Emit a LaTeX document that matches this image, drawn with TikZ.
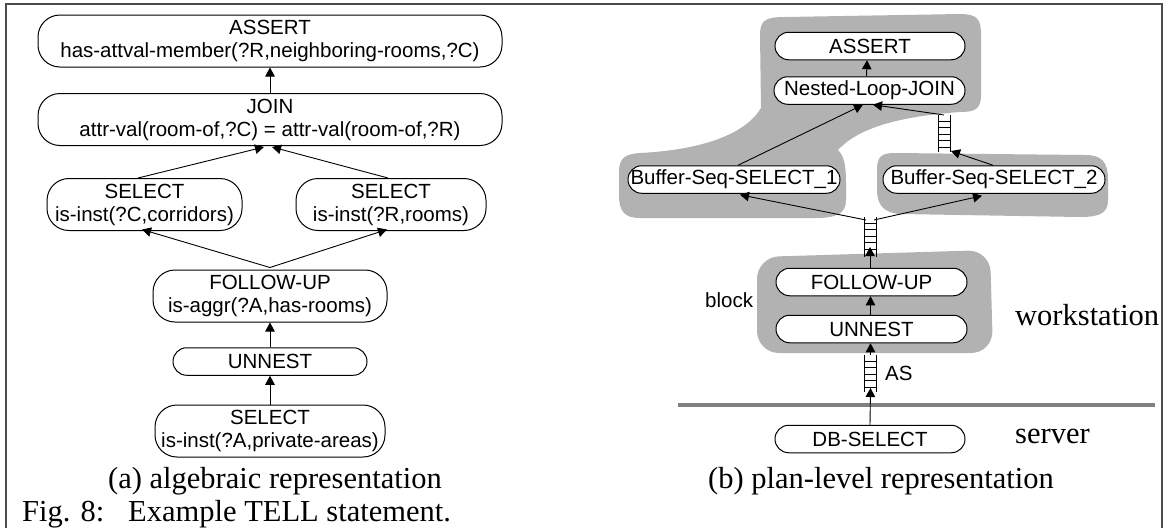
\documentclass[tikz,border=0pt]{standalone}
\usepackage{fontspec}
\setmainfont{Liberation Serif}
\setsansfont{Liberation Sans}
\usetikzlibrary{arrows.meta}
\definecolor{blobgray}{gray}{0.7}
\definecolor{framegray}{gray}{0.3}
\definecolor{tiergray}{gray}{0.5}

\begin{document}
\begin{tikzpicture}[x=1pt,y=-1pt,
  opbox/.style={draw=black, line width=1pt, fill=white, inner sep=0pt},
  tall/.style={opbox, minimum height=52pt, rounded corners=22pt},
  flat/.style={opbox, minimum height=27.5pt, rounded corners=13.7pt},
  lbl/.style={font=\sffamily\fontsize{20.5}{23}\selectfont, align=center, inner sep=0pt},
  note/.style={font=\sffamily\fontsize{20.5}{23}\selectfont, anchor=base west, inner sep=0pt},
  arr/.style={-{Triangle[length=9pt,width=9.5pt]}, line width=0.9pt},
  blob/.style={fill=blobgray},
  captxt/.style={font=\fontsize{30.5}{34}\selectfont, anchor=base west, inner sep=0pt},
  rail/.style={line width=0.9pt}
]
\useasboundingbox (0,0) rectangle (1169,528);

% frame
\draw[line width=1.5pt, framegray] (6,528) -- (6,4) -- (1162,4) -- (1162,528);

% ---------- (a) algebraic representation ----------
\node[tall, minimum width=464pt] (assertA) at (270,41) {};
\node[lbl] at (assertA) {ASSERT\\has-attval-member(?R,neighboring-rooms,?C)};
\node[tall, minimum width=464pt] (joinA) at (270,119.5) {};
\node[lbl] at (joinA) {JOIN\\attr-val(room-of,?C) = attr-val(room-of,?R)};
\node[tall, minimum width=195pt] (selC) at (144.5,204.5) {};
\node[lbl] at (selC) {SELECT\\is-inst(?C,corridors)};
\node[tall, minimum width=190pt] (selR) at (391,204.5) {};
\node[lbl] at (selR) {SELECT\\is-inst(?R,rooms)};
\node[tall, minimum width=234pt] (follA) at (270,296) {};
\node[lbl] at (follA) {FOLLOW-UP\\is-aggr(?A,has-rooms)};
\node[flat, minimum width=194pt] (unnA) at (270,361.5) {};
\node[lbl] at (unnA) {UNNEST};
\node[tall, minimum width=230pt] (selP) at (270,431) {};
\node[lbl] at (selP) {SELECT\\is-inst(?A,private-areas)};

\draw[arr] (joinA.north) -- (assertA.south);
\draw[arr] ([xshift=-6.5pt]selC.north) -- ([xshift=-6pt,yshift=-1pt]joinA.south);
\draw[arr] ([xshift=-3pt]selR.north) -- ([xshift=2pt,yshift=-1pt]joinA.south);
\draw[arr] ([yshift=2pt]follA.north) -- ([xshift=-2.5pt,yshift=1.5pt]selC.south);
\draw[arr] ([yshift=2pt]follA.north) -- ([xshift=-4pt,yshift=1.5pt]selR.south);
\draw[arr] (unnA.north) -- (follA.south);
\draw[arr] (selP.north) -- (unnA.south);

\node[captxt] (capA) at (108,488) {(a) algebraic representation};
\node[captxt] (figno) at (22,521) {Fig. 8:};
\node[captxt] (figtxt) at (128,521) {Example TELL statement.};

% ---------- (b) plan-level representation ----------
% shaded groups: join group with its first input, second input, and the block
\fill[blob] (760,35) .. controls (760,20) and (766,17) .. (785,17)
  -- (960,14) .. controls (978,14) and (981,20) .. (981,35)
  -- (981,95) .. controls (981,109) and (975,112) .. (960,112)
  .. controls (905,116) and (860,126) .. (838,150)
  .. controls (845,157) and (846,168) .. (846,185)
  -- (846,200) .. controls (846,214) and (836,218) .. (815,218)
  -- (640,218) .. controls (625,218) and (619,212) .. (619,195)
  -- (619,172) .. controls (619,158) and (625,154) .. (640,153)
  .. controls (700,150) and (745,135) .. (761,108) -- cycle;
\fill[blob] (877,170) .. controls (877,156) and (882,153) .. (895,153)
  -- (1085,155) .. controls (1102,155) and (1108,162) .. (1108,180)
  -- (1108,200) .. controls (1108,213) and (1100,217) .. (1080,217)
  -- (900,214) .. controls (884,213) and (877,205) .. (877,190) -- cycle;
\fill[blob, rounded corners=22pt] (757,257) -- (990,250) -- (993,353) -- (757,353) -- cycle;

% workstation / server boundary
\draw[line width=4pt, tiergray] (678,405) -- (1155,405);

\node[flat, minimum width=190pt] (assertB) at (870,46) {};
\node[lbl] at (assertB) {ASSERT};
\node[flat, minimum width=191pt] (nlj) at (869.5,90.5) {};
\node[lbl] at (nlj) {Nested-Loop-JOIN};
\node[flat, minimum width=212pt] (bss1) at (734,179.5) {};
\node[lbl] at (bss1) {Buffer-Seq-SELECT\_1};
\node[flat, minimum width=222pt] (bss2) at (994,179.5) {};
\node[lbl] at (bss2) {Buffer-Seq-SELECT\_2};
\node[flat, minimum width=191pt] (follB) at (871.5,282) {};
\node[lbl] at (follB) {FOLLOW-UP};
\node[flat, minimum width=191pt] (unnB) at (871.5,329) {};
\node[lbl] at (unnB) {UNNEST};
\node[flat, minimum width=190pt] (dbsel) at (870,439) {};
\node[lbl] at (dbsel) {DB-SELECT};

% buffer queues
\foreach \lx/\ty/\by in {938/115/152, 864/217/257, 864/355/392}{
  \draw[rail] (\lx,\ty) -- (\lx,\by) (\lx+12.5,\ty) -- (\lx+12.5,\by);
  \foreach \k in {0,...,4}
    \draw[rail] (\lx,\ty+6+6.5*\k) -- (\lx+12.5,\ty+6+6.5*\k);
}
\coordinate (q1t) at (944,115);
\coordinate (q1b) at (951,151);
\coordinate (q2l) at (866,220);
\coordinate (q2r) at (874,220);
\coordinate (q2b) at (870,247);
\coordinate (q3t) at (870.5,355);
\coordinate (q3b) at (870.5,388);

\draw[arr] ([xshift=-3pt]nlj.north) -- ([xshift=-3pt]assertB.south);
\draw[arr] ([xshift=4pt]bss1.north) -- ([xshift=-6.5pt]nlj.south);
\draw[arr] (q1t) -- ([xshift=3.5pt]nlj.south);
\draw[arr] ([xshift=-1pt]bss2.north) -- (q1b);
\draw[arr] (q2l) -- ([xshift=6pt,yshift=-1pt]bss1.south);
\draw[arr] (q2r) -- ([xshift=-12pt,yshift=-2pt]bss2.south);
\draw[arr] ([xshift=-1.5pt]follB.north) -- (q2b);
\draw[arr] ([xshift=-1pt]unnB.north) -- ([xshift=-1pt]follB.south);
\draw[arr] (q3t) -- ([xshift=-1pt]unnB.south);
\draw[arr] (dbsel.north) -- (q3b);

\node[note] (blk) at (705,307) {block};
\node[note] (as) at (885,380) {AS};
\node[captxt] (ws) at (1015,325) {workstation};
\node[captxt] (srv) at (1015,443) {server};
\node[captxt] (capB) at (708,488) {(b) plan-level representation};
\end{tikzpicture}
\end{document}
